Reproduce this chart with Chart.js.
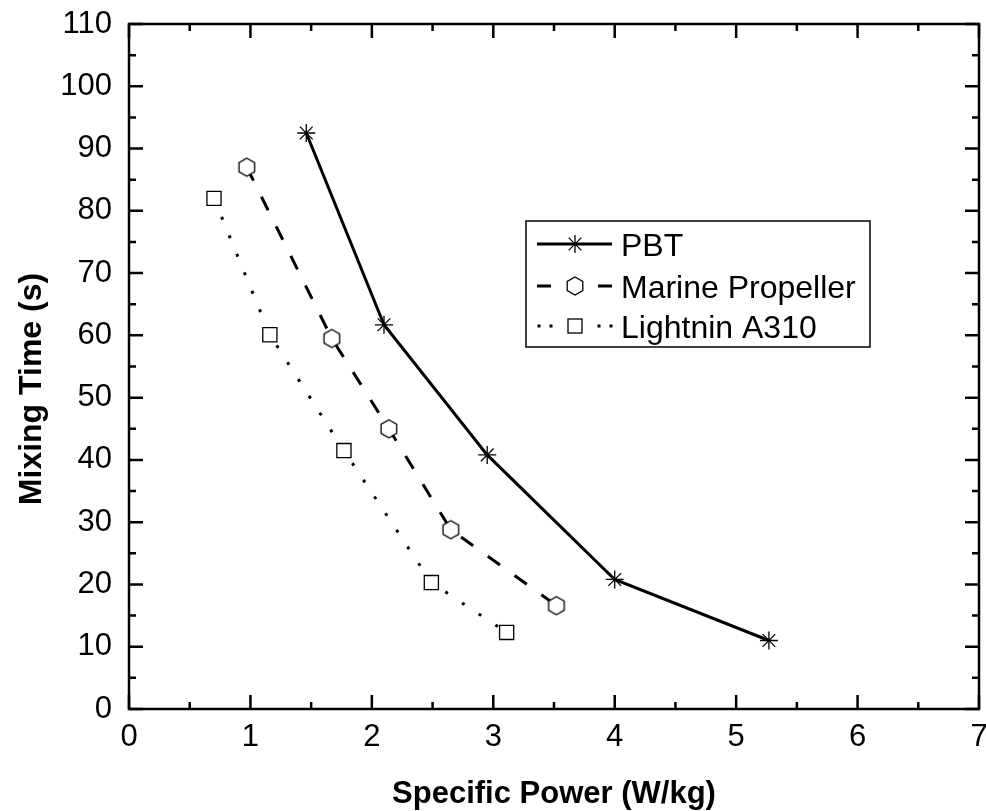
<!DOCTYPE html>
<html>
<head>
<meta charset="utf-8">
<title>Mixing Time vs Specific Power</title>
<script src="https://cdn.jsdelivr.net/npm/chart.js@4.4.0/dist/chart.umd.min.js"></script>
<style>
  html, body { margin: 0; padding: 0; background: #fff; overflow: hidden; }
  #mixingChart { display: block; }
</style>
</head>
<body>
<canvas id="mixingChart" width="986" height="811"></canvas>
<script>
// data
const pbtPower = [1.46, 2.10, 2.95, 4.00, 5.27];
const pbtTime = [92.5, 61.7, 40.8, 20.8, 11.0];
const marinePower = [0.97, 1.67, 2.14, 2.65, 3.52];
const marineTime = [87.0, 59.5, 45.0, 28.8, 16.6];
const lightninPower = [0.70, 1.16, 1.77, 2.49, 3.11];
const lightninTime = [82.0, 60.1, 41.5, 20.3, 12.3];
const seriesNames = ['PBT', 'Marine Propeller', 'Lightnin A310'];
const xTickValues = [0, 1, 2, 3, 4, 5, 6, 7];
const yTickValues = [0, 10, 20, 30, 40, 50, 60, 70, 80, 90, 100, 110];

const FONT = '"Liberation Sans", Arial, Helvetica, sans-serif';

function toPoints(xs, ys) {
  return xs.map((x, i) => ({ x: x, y: ys[i] }));
}

// hexagon marker (Chart.js has no built-in hexagon)
function hexPath(ctx, cx, cy, r) {
  ctx.beginPath();
  for (let i = 0; i < 6; i++) {
    const a = -Math.PI / 2 + i * Math.PI / 3;
    const px = cx + r * Math.cos(a);
    const py = cy + r * Math.sin(a);
    if (i === 0) ctx.moveTo(px, py); else ctx.lineTo(px, py);
  }
  ctx.closePath();
}

const hexMarker = document.createElement('canvas');
hexMarker.width = 22;
hexMarker.height = 22;
(function () {
  const c = hexMarker.getContext('2d');
  hexPath(c, 11, 11, 9);
  c.fillStyle = '#fff';
  c.fill();
  c.lineWidth = 1.3;
  c.strokeStyle = '#000';
  c.stroke();
})();

/**
 * Frame, inward ticks, axis titles and legend
 */
const framePlugin = {
  id: 'frame',
  afterDraw(chart) {
    const ctx = chart.ctx;
    const a = chart.chartArea;
    const xs = chart.scales.x;
    const ys = chart.scales.y;
    ctx.save();
    ctx.strokeStyle = '#000';
    ctx.lineWidth = 2.5;
    ctx.strokeRect(a.left, a.top, a.right - a.left, a.bottom - a.top);

    // inward ticks on all four sides
    ctx.beginPath();
    for (let v = 0; v <= 7.001; v += 0.5) {
      const len = Math.abs(v - Math.round(v)) < 0.01 ? 14 : 7;
      const px = xs.getPixelForValue(v);
      ctx.moveTo(px, a.bottom); ctx.lineTo(px, a.bottom - len);
      ctx.moveTo(px, a.top); ctx.lineTo(px, a.top + len);
    }
    for (let v = 0; v <= 110.01; v += 5) {
      const len = v % 10 === 0 ? 14 : 7;
      const py = ys.getPixelForValue(v);
      ctx.moveTo(a.left, py); ctx.lineTo(a.left + len, py);
      ctx.moveTo(a.right, py); ctx.lineTo(a.right - len, py);
    }
    ctx.stroke();

    // axis titles
    ctx.fillStyle = '#000';
    ctx.font = 'bold 31px ' + FONT;
    ctx.textAlign = 'center';
    ctx.textBaseline = 'alphabetic';
    ctx.fillText('Specific Power (W/kg)', (a.left + a.right) / 2, 803);
    ctx.save();
    ctx.translate(41, 389);
    ctx.rotate(-Math.PI / 2);
    ctx.font = 'bold 32px ' + FONT;
    ctx.fillText('Mixing Time (s)', 0, 0);
    ctx.restore();

    // legend
    ctx.lineWidth = 1.5;
    ctx.strokeRect(526, 221, 344, 126);
    const rows = [244, 286, 326];
    chart.data.datasets.forEach((ds, i) => {
      const y = rows[i];
      ctx.save();
      ctx.lineWidth = ds.borderWidth;
      ctx.beginPath();
      if (i === 0) {
        ctx.moveTo(537, y); ctx.lineTo(612, y);
      } else if (i === 1) {
        ctx.moveTo(537, y); ctx.lineTo(551, y);
        ctx.moveTo(598, y); ctx.lineTo(612, y);
      } else {
        [539, 551, 599, 611].forEach(dx => { ctx.moveTo(dx - 1.5, y); ctx.lineTo(dx + 1.5, y); });
      }
      ctx.stroke();
      ctx.restore();
      // marker
      ctx.save();
      ctx.lineWidth = 1.3;
      if (i === 0) {
        ctx.beginPath();
        for (let k = 0; k < 4; k++) {
          const ang = k * Math.PI / 4;
          ctx.moveTo(575 - 9 * Math.cos(ang), y - 9 * Math.sin(ang));
          ctx.lineTo(575 + 9 * Math.cos(ang), y + 9 * Math.sin(ang));
        }
        ctx.stroke();
      } else if (i === 1) {
        ctx.drawImage(hexMarker, 575 - 11, y - 11);
      } else {
        ctx.fillStyle = '#fff';
        ctx.fillRect(568, y - 7, 14, 14);
        ctx.strokeRect(568, y - 7, 14, 14);
      }
      ctx.restore();
      ctx.font = '32px ' + FONT;
      ctx.textAlign = 'left';
      ctx.fillText(ds.label, 621, y + 11.5);
    });
    ctx.restore();
  }
};

const ctx = document.getElementById('mixingChart');
new Chart(ctx, {
  type: 'line',
  data: {
    datasets: [
      {
        label: seriesNames[0],
        data: toPoints(pbtPower, pbtTime),
        borderColor: '#000',
        borderWidth: 3,
        pointStyle: 'star',
        pointRadius: 9,
        pointBorderWidth: 1.3,
        pointBorderColor: '#000',
        pointBackgroundColor: '#000'
      },
      {
        label: seriesNames[1],
        data: toPoints(marinePower, marineTime),
        borderColor: '#000',
        borderWidth: 3,
        borderDash: [15, 18],
        pointStyle: hexMarker,
        pointRadius: 9
      },
      {
        label: seriesNames[2],
        data: toPoints(lightninPower, lightninTime),
        borderColor: '#000',
        borderWidth: 3,
        borderDash: [3, 17],
        pointStyle: 'rect',
        pointRadius: 10,
        pointBorderWidth: 1.3,
        pointBorderColor: '#000',
        pointBackgroundColor: '#fff'
      }
    ]
  },
  options: {
    responsive: false,
    animation: false,
    layout: { autoPadding: false, padding: { top: 24, right: 7, left: 0, bottom: 0 } },
    plugins: {
      legend: { display: false },
      tooltip: { enabled: false }
    },
    scales: {
      x: {
        type: 'linear',
        min: 0,
        max: 7,
        grid: { display: false, drawTicks: false },
        border: { display: false },
        afterBuildTicks: s => { s.ticks = xTickValues.map(v => ({ value: v })); },
        afterFit: s => { s.height = 102; s.paddingLeft = 0; s.paddingRight = 0; },
        ticks: {
          color: '#000',
          font: { family: FONT, size: 31 },
          padding: 10,
          maxRotation: 0
        }
      },
      y: {
        type: 'linear',
        min: 0,
        max: 110,
        grid: { display: false, drawTicks: false },
        border: { display: false },
        afterBuildTicks: s => { s.ticks = yTickValues.map(v => ({ value: v })); },
        afterFit: s => { s.width = 129; s.paddingTop = 0; s.paddingBottom = 0; },
        ticks: {
          color: '#000',
          font: { family: FONT, size: 31 },
          padding: 17
        }
      }
    }
  },
  plugins: [framePlugin]
});
</script>
</body>
</html>
